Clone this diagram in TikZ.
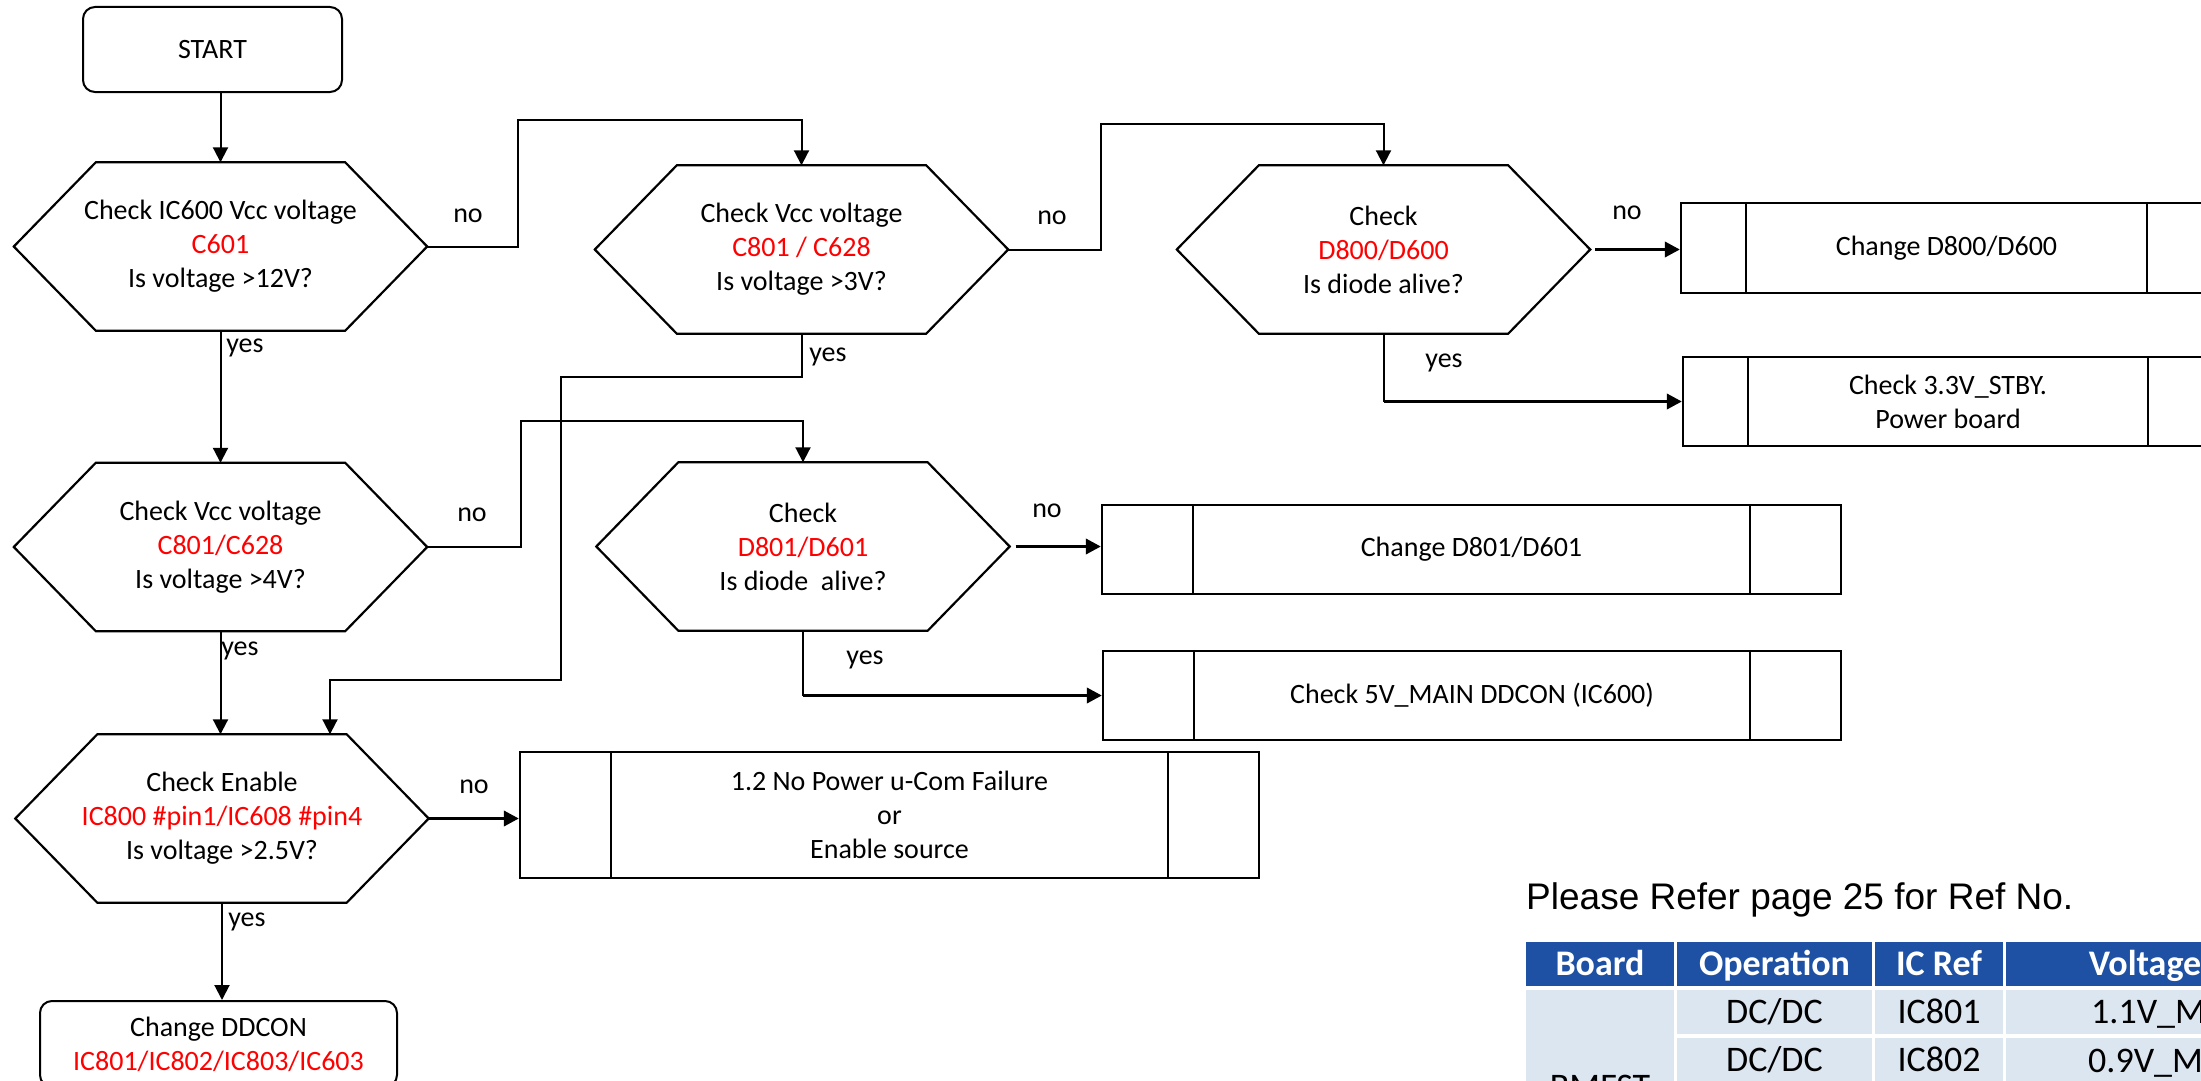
\documentclass[tikz,border=0pt]{standalone}
\usepackage{fontspec}
\setmainfont{Carlito}
\newfontfamily\arialfont{Liberation Sans}
\usetikzlibrary{arrows.meta,calc}
\definecolor{refred}{RGB}{255,0,0}
\definecolor{hdrblue}{RGB}{30,81,163}
\definecolor{cellblue}{RGB}{220,230,241}

% hexagonal decision frame around an (invisible) rectangular node
\newcommand\hexframe[1]{%
  \draw[line width=2.2pt, line join=miter]
    (#1.west) -- ([xshift=82pt]#1.north west) -- ([xshift=-82pt]#1.north east)
    -- (#1.east) -- ([xshift=-82pt]#1.south east) -- ([xshift=82pt]#1.south west) -- cycle;}
% the two inner bars of a predefined-process box
\newcommand\procbars[2]{%
  \draw[line width=1.6pt] ([xshift=#2]#1.north west) -- ([xshift=#2]#1.south west);
  \draw[line width=1.6pt] ([xshift=-#2]#1.north east) -- ([xshift=-#2]#1.south east);}
\newcommand\red[1]{\textcolor{refred}{#1}}

\begin{document}
\begin{tikzpicture}[x=1pt,y=-1pt,
  every node/.style={font=\fontsize{28}{34}\selectfont, inner sep=0pt},
  line/.style={line width=2pt},
  thickline/.style={line width=3.4pt},
  arr/.style={-{Triangle[length=15pt,width=15pt]}},
  hexnode/.style={minimum width=413pt, minimum height=168pt, align=center},
  terminal/.style={draw, line width=2pt, rounded corners=12pt, align=center},
  procbox/.style={draw, line width=2.2pt, align=center},
  lbl/.style={anchor=base},
  hdrcell/.style={fill=hdrblue, text=white, minimum height=44pt,
    font=\fontsize{36}{40}\selectfont\bfseries, text height=23pt, text depth=0pt},
  datacell/.style={fill=cellblue, minimum height=44pt,
    font=\fontsize{36}{40}\selectfont, text height=23pt, text depth=0pt},
  celltext/.style={font=\fontsize{36}{40}\selectfont, anchor=base west},
]
\useasboundingbox (0,0) rectangle (2201,1081);
\fill[white] (0,0) rectangle (2201,1081);
\clip (0,0) rectangle (2201,1081);

% ---------- terminals ----------
\node[terminal, minimum width=259pt, minimum height=85pt] (start) at (212.5,49.5) {START};
\node[terminal, minimum width=357pt, minimum height=86pt] (done) at (218.5,1044)
  {Change DDCON\\\red{IC801/IC802/IC803/IC603}};

% ---------- decisions ----------
\node[hexnode] (h1) at (220.5,246.5) {Check IC600 Vcc voltage\\\red{C601}\\Is voltage >12V?};
\node[hexnode] (h2) at (801.5,249.5) {Check Vcc voltage\\\red{C801 / C628}\\Is voltage >3V?};
\node[hexnode] (h3) at (1383.5,249.5) {Check\\\red{D800/D600}\\Is diode alive?};
\node[hexnode] (h4) at (220.5,547) {Check Vcc voltage\\\red{C801/C628}\\Is voltage >4V?};
\node[hexnode] (h5) at (803,546.5) {Check\\\red{D801/D601}\\Is diode~ alive?};
\node[hexnode] (h6) at (222,818.5) {Check Enable\\\red{IC800 \#pin1/IC608 \#pin4}\\Is voltage >2.5V?};
\foreach \h in {h1,h2,h3,h4,h5,h6} {\hexframe{\h}}

% ---------- predefined processes ----------
\node[procbox, minimum width=531pt, minimum height=90pt] (b1) at (1946.5,248) {Change D800/D600};
\node[procbox, minimum width=530pt, minimum height=89pt] (b2) at (1948,401.5) {Check 3.3V\_STBY.\\Power board};
\node[procbox, minimum width=739pt, minimum height=89pt] (b3) at (1471.5,549.5) {Change D801/D601};
\node[procbox, minimum width=738pt, minimum height=89pt] (b4) at (1472,695.5) {Check 5V\_MAIN DDCON (IC600)};
\node[procbox, minimum width=739pt, minimum height=126pt] (b5) at (889.5,815)
  {1.2 No Power u-Com Failure\\or\\Enable source};
\procbars{b1}{66pt}
\procbars{b2}{66pt}
\procbars{b3}{92pt}
\procbars{b4}{92pt}
\procbars{b5}{92pt}

% ---------- bend points ----------
\coordinate (n1) at (518,120);
\coordinate (n2) at (1101,124);
\coordinate (n4) at (521,421);
\coordinate (y2a) at (561,377);
\coordinate (y2b) at (330,680);

% ---------- connectors ----------
\draw[line, arr] (h1.north |- start.south) -- (h1.north);
\draw[line, arr] (h1.south) -- (h4.north);
\draw[line, arr] (h4.south) -- (h4.south |- h6.north);
\draw[line, arr] (h6.south) -- (h6.south |- done.north);

\draw[line, arr] (h1.east) -| (n1) -| (h2.north);
\draw[line, arr] (h2.east) -| (n2) -| (h3.north);
\draw[line, arr] (h4.east) -| (n4) -| (h5.north);
\draw[line, arr] (h2.south) |- (y2a) |- (y2b) -- (y2b |- h6.north);

\draw[thickline, arr, shorten <=5pt] (h3.east) -- (h3.east -| b1.west);
\draw[line] (h3.south) -- (h3.south |- b2.west);
\draw[thickline, arr] (h3.south |- b2.west) -- (b2.west);

\draw[thickline, arr, shorten <=6pt] (h5.east) -- (h5.east -| b3.west);
\draw[line] (h5.south) -- (h5.south |- b4.west);
\draw[thickline, arr] (h5.south |- b4.west) -- (b4.west);

\draw[thickline, arr] (h6.east) -- (h6.east -| b5.west);

% ---------- branch labels ----------
\node[lbl] (l1n) at (468,222) {no};
\node[lbl] (l2n) at (1052,224) {no};
\node[lbl] (l3n) at (1627,219) {no};
\node[lbl] (l4n) at (472,521) {no};
\node[lbl] (l5n) at (1047,517) {no};
\node[lbl] (l6n) at (474,793) {no};
\node[lbl] (l1y) at (245,352) {yes};
\node[lbl] (l2y) at (828,361) {yes};
\node[lbl] (l3y) at (1444,367) {yes};
\node[lbl] (l4y) at (240,655) {yes};
\node[lbl] (l5y) at (865,664) {yes};
\node[lbl] (l6y) at (247,926) {yes};

% ---------- reference note and table ----------
\node[anchor=base west, font=\arialfont\fontsize{37}{40}\selectfont] (note) at (1526,909)
  {Please Refer page 25 for Ref No.};

\node[hdrcell, minimum width=148pt] (th1) at (1600,964) {Board};
\node[hdrcell, minimum width=195pt] (th2) at (1774.5,964) {Operation};
\node[hdrcell, minimum width=128pt] (th3) at (1939,964) {IC Ref};
\node[hdrcell, minimum width=278pt] (th4) at (2145,964) {Voltage};

\node[datacell, minimum width=148pt, minimum height=194pt] (tb) at (1600,1087) {BMFST};
\node[datacell, minimum width=195pt] (t12) at (1774.5,1012) {DC/DC};
\node[datacell, minimum width=128pt] (t13) at (1939,1012) {IC801};
\node[datacell, minimum width=278pt] (t14) at (2145,1012) {};
\node[datacell, minimum width=195pt] (t22) at (1774.5,1060) {DC/DC};
\node[datacell, minimum width=128pt] (t23) at (1939,1060) {IC802};
\node[datacell, minimum width=278pt] (t24) at (2145,1060) {};
\node[celltext] (v1) at (2091,1023) {1.1V\_MAIN};
\node[celltext] (v2) at (2088,1072) {0.9V\_MAIN};
\end{tikzpicture}
\end{document}
